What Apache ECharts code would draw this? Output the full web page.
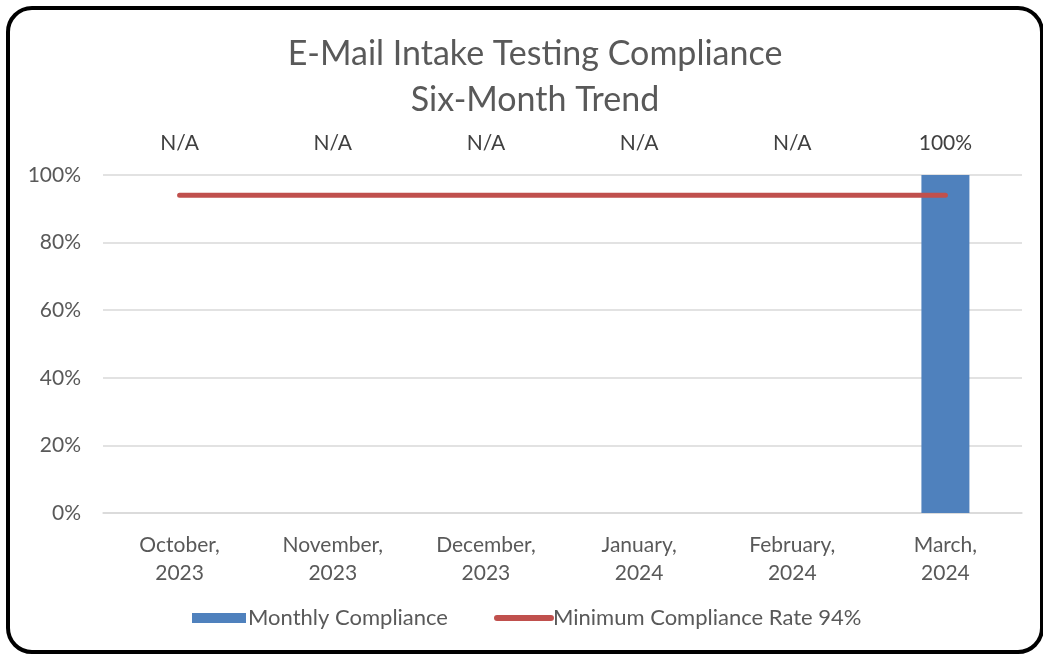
<!DOCTYPE html>
<html lang="en">
<head>
    <meta charset="UTF-8">
    <title>E-Mail Intake Testing Compliance</title>
    <script src="https://cdn.jsdelivr.net/npm/echarts@6/dist/echarts.min.js"></script>
    <style>
        html, body { margin: 0; padding: 0; background: #fff; }
        #container { width: 1043px; height: 656px; }
    </style>
</head>
<body>
<div id="container"></div>
<script>
    var months = ['October,\n2023', 'November,\n2023', 'December,\n2023', 'January,\n2024', 'February,\n2024', 'March,\n2024'];
    // label text shown above each month
    var topLabels = ['N/A', 'N/A', 'N/A', 'N/A', 'N/A', '100%'];
    // monthly compliance, null = no data (N/A)
    var compliance = [null, null, null, null, null, 1.00];
    var minimumRate = [0.94, 0.94, 0.94, 0.94, 0.94, 0.94];

    var font = 'Lato, "Noto Sans", sans-serif';
    var grey = '#595959';
    var red = '#c0504d';

    var myChart = echarts.init(document.getElementById('container'));

    myChart.setOption({
        animation: false,
        textStyle: { fontFamily: font },
        title: {
            text: 'E-Mail Intake Testing Compliance\nSix-Month Trend',
            left: 530,
            textAlign: 'center',
            top: 26,
            textStyle: {
                fontFamily: font,
                fontSize: 34,
                fontWeight: 'normal',
                color: grey,
                lineHeight: 46
            }
        },
        grid: { left: 103, right: 21, top: 175, bottom: 143 },
        legend: {
            left: 187,
            top: 602,
            itemWidth: 54,
            itemHeight: 10,
            itemGap: 46,
            textStyle: { fontFamily: font, fontSize: 22, color: grey, padding: [0, 0, 0, -3] },
            data: [
                { name: 'Monthly Compliance', icon: 'rect' },
                {
                    name: 'Minimum Compliance Rate 94%',
                    itemStyle: { opacity: 0 },
                    lineStyle: { color: red, width: 6, cap: 'round' }
                }
            ]
        },
        xAxis: [
            {
                type: 'category',
                data: months,
                axisLine: { lineStyle: { color: '#d9d9d9', width: 1.5 } },
                axisTick: { show: false },
                axisLabel: { color: grey, fontSize: 21, lineHeight: 28, margin: 18, fontFamily: font }
            },
            {
                type: 'category',
                position: 'top',
                data: topLabels,
                axisLine: { show: false },
                axisTick: { show: false },
                axisLabel: { color: '#404040', fontSize: 21, margin: 21, fontFamily: font }
            }
        ],
        yAxis: {
            type: 'value',
            min: 0,
            max: 1,
            interval: 0.2,
            axisLine: { show: false },
            axisTick: { show: false },
            splitLine: { lineStyle: { color: '#d9d9d9', width: 1.5 } },
            axisLabel: {
                color: grey,
                fontSize: 21,
                margin: 22,
                fontFamily: font,
                formatter: function (v) { return Math.round(v * 100) + '%'; }
            }
        },
        series: [
            {
                name: 'Monthly Compliance',
                type: 'bar',
                barWidth: 48,
                data: compliance,
                itemStyle: { color: '#4f81bd' }
            },
            {
                name: 'Minimum Compliance Rate 94%',
                type: 'line',
                data: minimumRate,
                symbol: 'none',
                lineStyle: { color: red, width: 5, cap: 'round' },
                itemStyle: { color: red }
            }
        ],
        graphic: [
            {
                type: 'rect',
                shape: { x: 8, y: 8, width: 1034, height: 644, r: 24 },
                style: { fill: 'none', stroke: '#000', lineWidth: 4 },
                silent: true
            }
        ]
    });
</script>
</body>
</html>
